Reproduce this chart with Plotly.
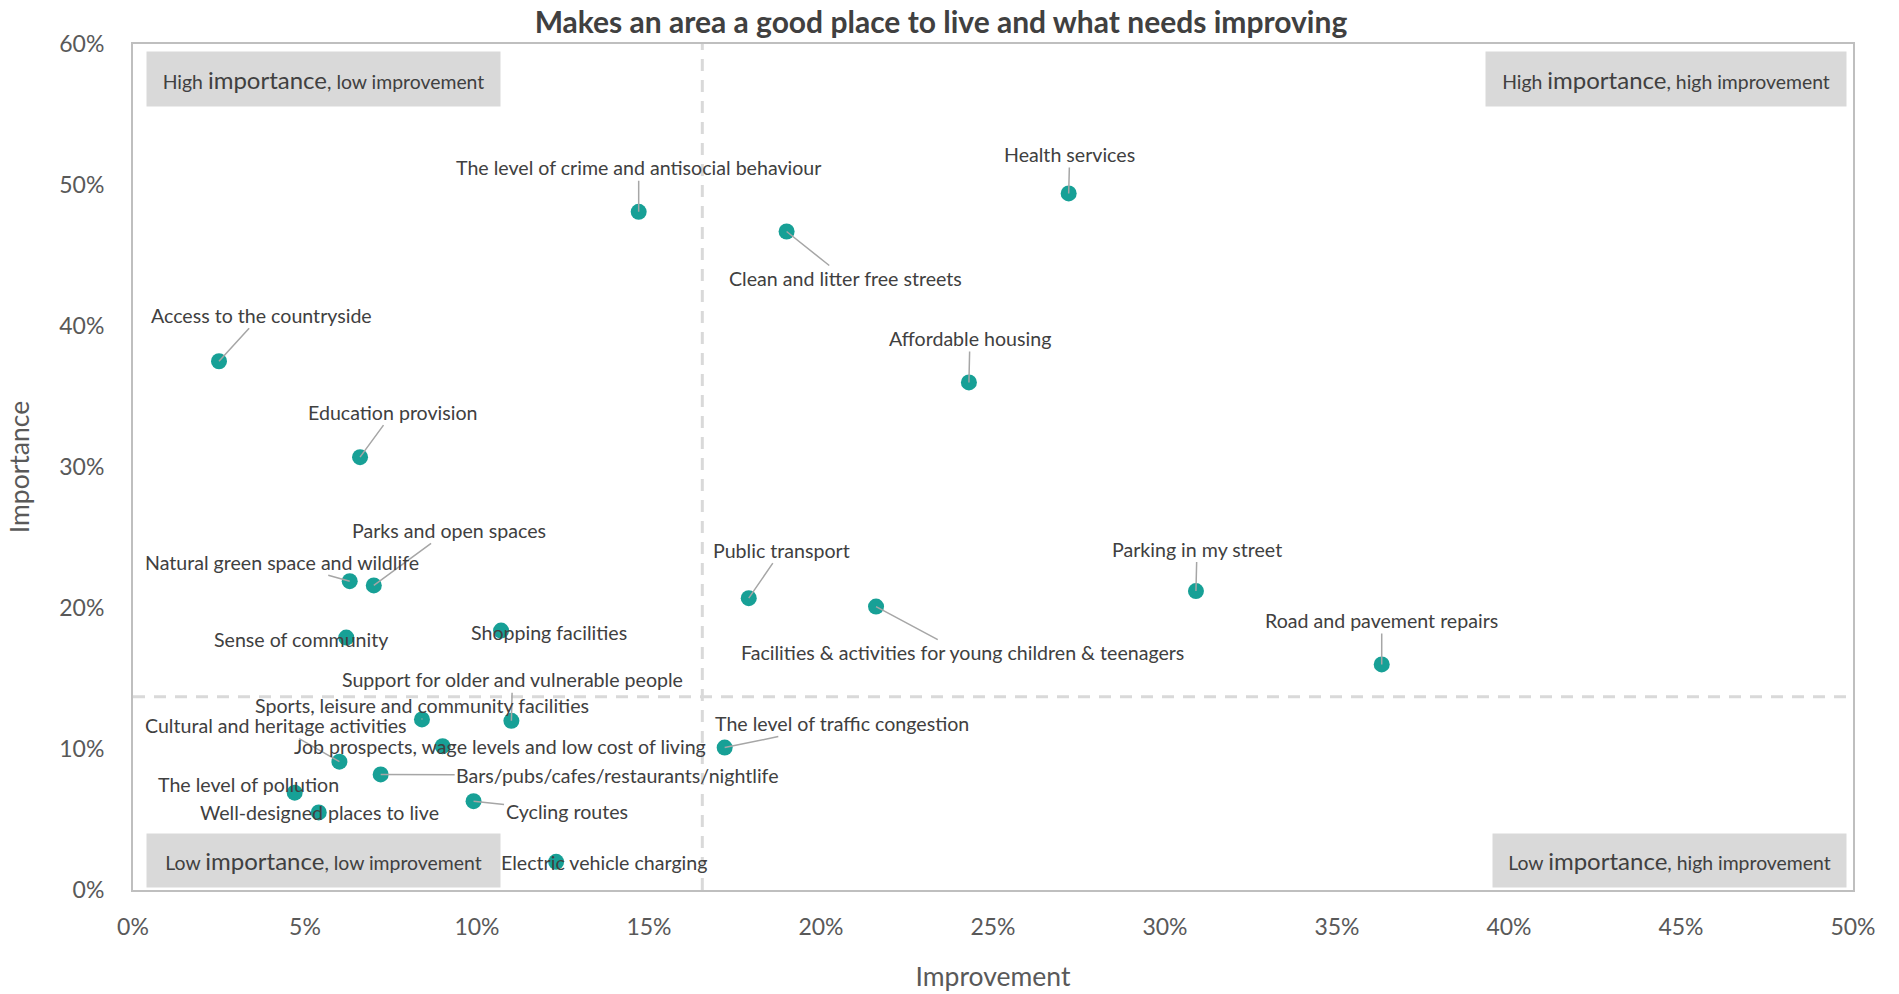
import plotly.graph_objects as go

# Survey results: share saying each factor makes an area a good place to live
# (importance) and share saying it most needs improving (improvement)
factors = [
    "The level of crime and antisocial behaviour",
    "Health services",
    "Clean and litter free streets",
    "Access to the countryside",
    "Affordable housing",
    "Education provision",
    "Parks and open spaces",
    "Natural green space and wildlife",
    "Sense of community",
    "Shopping facilities",
    "Public transport",
    "Facilities & activities for young children & teenagers",
    "Parking in my street",
    "Road and pavement repairs",
    "Support for older and vulnerable people",
    "Sports, leisure and community facilities",
    "Cultural and heritage activities",
    "Job prospects, wage levels and low cost of living",
    "The level of traffic congestion",
    "Bars/pubs/cafes/restaurants/nightlife",
    "The level of pollution",
    "Well-designed places to live",
    "Cycling routes",
    "Electric vehicle charging",
]
improvement = [0.147, 0.272, 0.190, 0.025, 0.243, 0.066, 0.070, 0.063, 0.062, 0.107,
               0.179, 0.216, 0.309, 0.363, 0.110, 0.084, 0.060, 0.090, 0.172, 0.072,
               0.047, 0.054, 0.099, 0.123]
importance = [0.481, 0.494, 0.467, 0.375, 0.360, 0.307, 0.216, 0.219, 0.179, 0.184,
              0.207, 0.201, 0.212, 0.160, 0.120, 0.121, 0.091, 0.102, 0.101, 0.082,
              0.069, 0.055, 0.063, 0.020]

# Quadrant dividers
improvement_split = 0.1655
importance_split = 0.137

# label offsets (pixels) from each point to its text
label_dx = [0, 1, 59, 42, 1, 33, 75, -68, -45, 48, 33, 86, 1, 0, 1, 0, -63, 57, 117, 237, -46, 1, 93, 48]
label_dy = [-44, -39, 47, -46, -44, -45, -55, -19, 2, 2, -48, 46, -42, -44, -41, -14, -36, 0, -24, 1, -8, 0, 10, 1]

FONT = "Lato"
TEXT = "#404040"
TEAL = "#17a096"
GREY_LINE = "#a6a6a6"

fig = go.Figure()
fig.add_trace(go.Scatter(
    x=improvement, y=importance, mode="markers",
    marker=dict(size=16, color=TEAL, line=dict(width=0)),
    text=factors, hovertemplate="%{text}<br>Improvement %{x:.0%}<br>Importance %{y:.0%}<extra></extra>",
    showlegend=False,
))

annotations = []
for name, xv, yv, dx, dy in zip(factors, improvement, importance, label_dx, label_dy):
    annotations.append(dict(
        x=xv, y=yv, xref="x", yref="y", text=name,
        showarrow=True, arrowhead=0, arrowwidth=1.5, arrowcolor=GREY_LINE,
        ax=dx, ay=dy, standoff=0, startstandoff=0,
        font=dict(family=FONT, size=19.6, color=TEXT),
    ))

# grey quadrant captions
L, R, T, B = 133, 1853, 43.5, 890
W, H = R - L, B - T


def px_x(p):
    return (p - L) / W


def px_y(p):
    return (B - p) / H


boxes = [
    ("High", "low", 146, 51, 353, 54),
    ("High", "high", 1485, 51, 360, 54),
    ("Low", "low", 146, 833, 353, 53),
    ("Low", "high", 1492, 833, 353, 53),
]
for imp, impr, bx, by, bw, bh in boxes:
    annotations.append(dict(
        xref="paper", yref="paper", x=px_x(bx), y=px_y(by),
        xanchor="left", yanchor="top", width=bw, height=bh,
        text=f"{imp} <span style='font-size:24px'>importance</span>, {impr} improvement",
        showarrow=False, bgcolor="#d9d9d9", borderpad=0, align="center", valign="middle",
        font=dict(family=FONT, size=19.4, color=TEXT),
    ))

fig.add_shape(type="line", xref="x", yref="y", x0=improvement_split, x1=improvement_split,
              y0=0, y1=0.6, line=dict(color="#d9d9d9", width=3, dash="12px,9px"), layer="below")
fig.add_shape(type="line", xref="x", yref="y", x0=0, x1=0.5,
              y0=importance_split, y1=importance_split,
              line=dict(color="#d9d9d9", width=3, dash="12px,9px"), layer="below")

fig.update_layout(
    width=1899, height=994,
    margin=dict(l=L, r=1899 - R, t=T, b=994 - B),
    paper_bgcolor="white", plot_bgcolor="white",
    title=dict(text="<b>Makes an area a good place to live and what needs improving</b>",
               x=0.4955, xanchor="center", y=1 - 22 / 994, yanchor="middle",
               font=dict(family=FONT, size=30, color=TEXT)),
    annotations=annotations,
    font=dict(family=FONT, color="#595959"),
)
fig.update_xaxes(
    range=[0, 0.5], dtick=0.05, tickformat=".0%", showgrid=False, zeroline=False,
    showline=True, linecolor="#bfbfbf", linewidth=2, mirror=True, ticks="", automargin=False,
    tickfont=dict(family=FONT, size=23, color="#595959"), ticklabelstandoff=15,
    title=dict(text="Improvement", font=dict(family=FONT, size=26.5, color="#595959"), standoff=29),
)
fig.update_yaxes(
    range=[0, 0.6], dtick=0.1, tickformat=".0%", showgrid=False, zeroline=False,
    showline=True, linecolor="#bfbfbf", linewidth=2, mirror=True, ticks="", automargin=False,
    tickfont=dict(family=FONT, size=23, color="#595959"), ticklabelstandoff=22,
    title=dict(text="Importance", font=dict(family=FONT, size=26.5, color="#595959"), standoff=22),
)

fig.write_html("out.html", include_plotlyjs=True)
